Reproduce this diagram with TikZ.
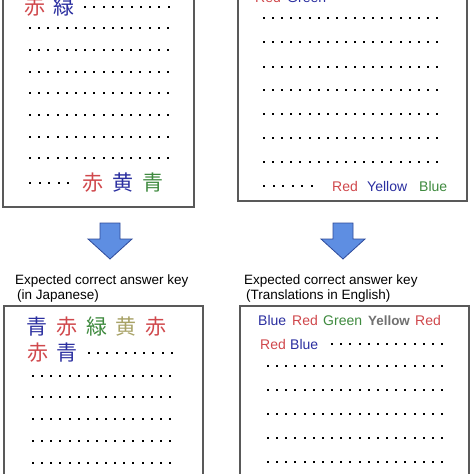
\documentclass[tikz,border=0pt]{standalone}
\usepackage{fontspec}
\setmainfont{Liberation Sans}
\newfontfamily\jpfont{Noto Sans CJK JP}
\definecolor{cred}{HTML}{D0484C}
\definecolor{cblue}{HTML}{2B2FA0}
\definecolor{cgreen}{HTML}{3E8A3E}
\definecolor{colive}{HTML}{A8A266}
\definecolor{cgrey}{HTML}{707070}
\definecolor{arrfill}{HTML}{5E8EE2}
\definecolor{arrline}{HTML}{2E4A9A}
\newcommand{\dotrow}[4]{\foreach \i in {1,...,#3}{\fill ({round(#1+(\i-1)*#4)-1.25},{round(#2)-1.25}) rectangle ++(2.5,2.5);}}
\begin{document}
\begin{tikzpicture}[x=1pt,y=-1pt,
  sheet/.style={draw=black!65,line width=1.2pt,fill=white},
  jpc/.style={font=\jpfont\fontsize{21}{21}\selectfont,inner sep=0pt,anchor=center},
  enw/.style={font=\fontsize{14}{14}\selectfont,inner sep=0pt,anchor=base west},
  lbl/.style={font=\fontsize{13.5}{13.5}\selectfont,inner sep=0pt,anchor=base west},
  bigarrow/.style={fill=arrfill,draw=arrline,line width=0.8pt,line join=miter}]
\useasboundingbox (0,0) rectangle (474,474);
\clip (0,0) rectangle (474,474);
\fill[white] (0,0) rectangle (474,474);

% ---------- top left sheet ----------
\draw[sheet] (3,-10) rectangle (194,207);
\node[jpc,text=cred]  (tla) at (34.5,7) {赤};
\node[jpc,text=cblue] (tlb) at (64,7) {緑};
\dotrow{85}{7}{10}{9.3}
\foreach \y in {28,50,72,93,115,137,158}{\dotrow{30}{\y}{16}{9.2}}
\dotrow{30}{183}{5}{9.5}
\node[jpc,text=cred]   (tlc) at (93,183) {赤};
\node[jpc,text=cblue]  (tld) at (123,183) {黄};
\node[jpc,text=cgreen] (tle) at (153,183) {青};

% ---------- top right sheet ----------
\draw[sheet] (238,-10) rectangle (467,201);
\node[enw,text=cred]  (tra) at (255,2.5) {Red};
\node[enw,text=cblue] (trb) at (287,2.5) {Green};
\foreach \y in {18,42,67,90,114,138,162}{\dotrow{264}{\y}{20}{9.1}}
\dotrow{264}{186}{6}{9.6}
\node[enw,text=cred]   (trc) at (332,191) {Red};
\node[enw,text=cblue]  (trd) at (367,191) {Yellow};
\node[enw,text=cgreen] (tre) at (419,191) {Blue};

% ---------- arrows ----------
\draw[bigarrow] (100,223) -- (120,223) -- (120,239) -- (132,239) -- (110,259) -- (88,239) -- (100,239) -- cycle;
\draw[bigarrow] (333,223) -- (353,223) -- (353,239) -- (365,239) -- (343,259) -- (321,239) -- (333,239) -- cycle;

% ---------- labels ----------
\node[lbl] (l1) at (15,284.5) {Expected correct answer key};
\node[lbl] (l2) at (17,299.5) {(in Japanese)};
\node[lbl] (r1) at (244,284) {Expected correct answer key};
\node[lbl] (r2) at (246,299) {(Translations in English)};

% ---------- bottom left sheet ----------
\draw[sheet] (4,306) rectangle (203,490);
\node[jpc,text=cblue]  (bla) at (36.5,327) {青};
\node[jpc,text=cred]   (blb) at (67,327) {赤};
\node[jpc,text=cgreen] (blc) at (96.5,327) {緑};
\node[jpc,text=colive] (bld) at (126,327) {黄};
\node[jpc,text=cred]   (ble) at (155.5,327) {赤};
\node[jpc,text=cred]   (blf) at (38,353) {赤};
\node[jpc,text=cblue]  (blg) at (67,353) {青};
\dotrow{89}{353}{10}{9.2}
\foreach \y in {376,397,419,441,463}{\dotrow{33}{\y}{16}{9.13}}

% ---------- bottom right sheet ----------
\draw[sheet] (240,306) rectangle (469,490);
\node[enw,text=cblue]  (bra) at (258,325) {Blue};
\node[enw,text=cred]   (brb) at (292,325) {Red};
\node[enw,text=cgreen] (brc) at (323,325) {Green};
\node[enw,text=cgrey,font=\bfseries\fontsize{13.4}{13.4}\selectfont] (brd) at (368,325) {Yellow};
\node[enw,text=cred]   (bre) at (415,325) {Red};
\node[enw,text=cred]   (brf) at (260,349) {Red};
\node[enw,text=cblue]  (brg) at (290,349) {Blue};
\dotrow{332}{344}{13}{9.17}
\foreach \y in {366,390,414,438,462}{\dotrow{268}{\y}{20}{9.16}}
\end{tikzpicture}
\end{document}
